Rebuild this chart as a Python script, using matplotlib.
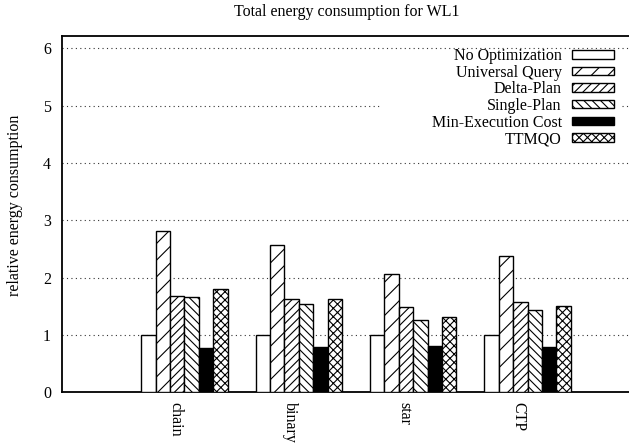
import matplotlib
matplotlib.use("Agg")
import matplotlib.pyplot as plt
from matplotlib.patches import Rectangle
import numpy as np

categories = ["chain", "binary", "star", "CTP"]
series_names = ["No Optimization", "Universal Query", "Delta-Plan",
                "Single-Plan", "Min-Execution Cost", "TTMQO"]
no_opt = [1.00, 1.00, 1.00, 1.00]
universal_query = [2.81, 2.57, 2.06, 2.37]
delta_plan = [1.68, 1.62, 1.49, 1.57]
single_plan = [1.66, 1.54, 1.26, 1.43]
min_exec_cost = [0.78, 0.79, 0.80, 0.79]
ttmqo = [1.80, 1.62, 1.32, 1.50]
series = [no_opt, universal_query, delta_plan, single_plan, min_exec_cost, ttmqo]
yticks = [0, 1, 2, 3, 4, 5, 6]

hatches = ["", "//", "////", "\\\\\\\\", "", "xxxx"]
faces = ["white", "white", "white", "white", "black", "white"]

plt.rcParams["font.family"] = ["Liberation Serif", "DejaVu Serif"]
plt.rcParams["font.size"] = 11.5
plt.rcParams["hatch.linewidth"] = 0.8

W, H = 629, 445
fig = plt.figure(figsize=(W / 100, H / 100), dpi=100)
ax = fig.add_axes([62 / W, 1 - 392.3 / H, (642 - 62) / W, (392.3 - 35.7) / H])

bw = 0.126
x = np.arange(len(categories))
for j, (vals, name) in enumerate(zip(series, series_names)):
    ax.bar(x + (j - 2.5) * bw, vals, width=bw, color=faces[j], edgecolor="black",
           linewidth=1.0, hatch=hatches[j], label=name, zorder=3)

ax.set_xlim(-1.07, 4.0)
ax.set_ylim(0, 6.22)
ax.set_yticks(yticks)
ax.set_xticks(x - 0.08)
ax.set_xticklabels(categories, rotation=270, ha="center", va="top")
ax.tick_params(axis="both", length=0)
ax.tick_params(axis="y", pad=8)
ax.tick_params(axis="x", pad=7)

for yv in yticks[1:]:
    ax.axhline(yv, color="#333333", linewidth=0.8, linestyle=(0, (1, 3)), zorder=1)

for s in ["left", "top", "bottom"]:
    ax.spines[s].set_linewidth(1.3)
ax.spines["right"].set_visible(False)

# opaque key background
ax.add_patch(Rectangle((380, H - 148), 240, 96, transform=None,
                       facecolor="white", edgecolor="none", zorder=2))

leg = ax.legend(loc="upper right", bbox_to_anchor=(614 / W, 1 - 48 / H),
                bbox_transform=fig.transFigure, frameon=False, markerfirst=False,
                borderpad=0, borderaxespad=0, handlelength=2.65, handleheight=0.44,
                handletextpad=0.62, labelspacing=0.04)
leg.set_zorder(5)

fig.text(15 / W, 1 - 205 / H, "relative energy consumption", rotation=90,
         ha="center", va="center")
fig.text(347 / W, 1 - 12 / H, "Total energy consumption for WL1",
         ha="center", va="center")

fig.savefig("out.png", dpi=100)
